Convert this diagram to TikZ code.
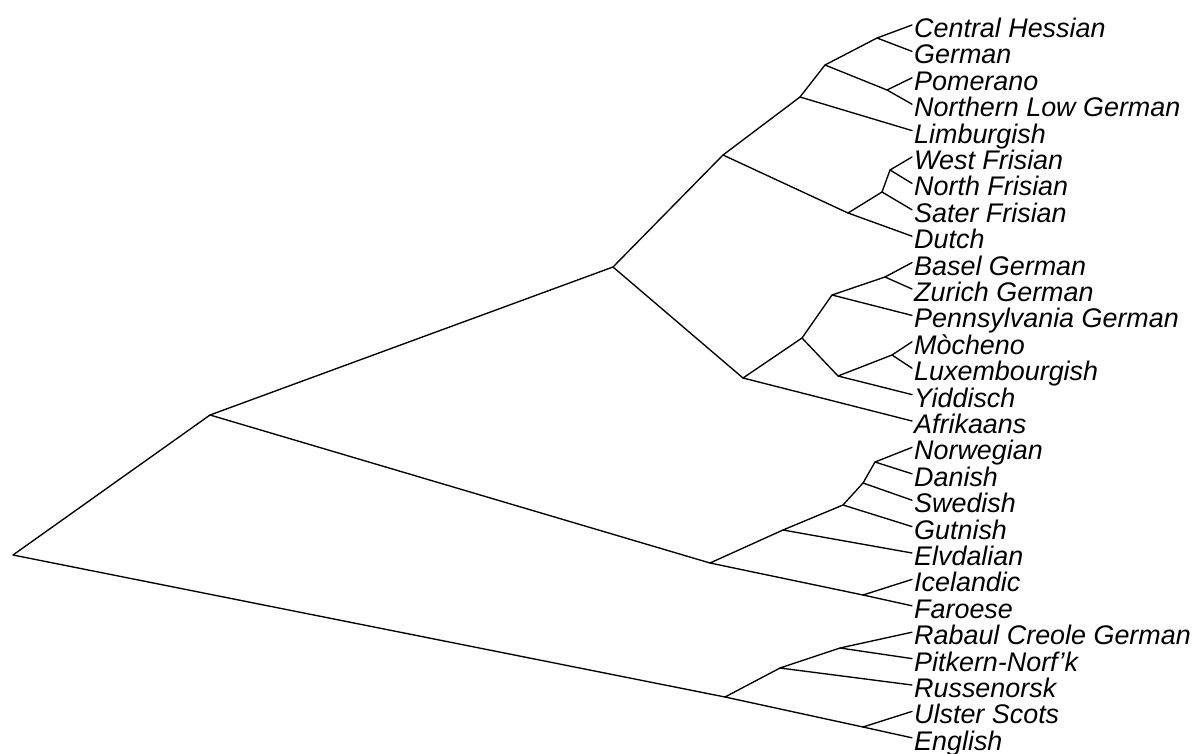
\documentclass[tikz,border=0pt]{standalone}
\usepackage{fontspec}
\setmainfont{Liberation Sans}
\begin{document}
\begin{tikzpicture}[x=1pt,y=-1pt,
  edge/.style={line width=1.35pt,line cap=round,line join=round},
  leaf/.style={anchor=base west,inner sep=0pt,font=\fontsize{26.9}{26.9}\selectfont\itshape}]
\useasboundingbox (0,0) rectangle (1198,754);
% leaf tips
\foreach \i/\t in {0/Central Hessian,1/German,2/Pomerano,3/Northern Low German,4/Limburgish,
  5/West Frisian,6/North Frisian,7/Sater Frisian,8/Dutch,9/Basel German,10/Zurich German,
  11/Pennsylvania German,12/Mòcheno,13/Luxembourgish,14/Yiddisch,15/Afrikaans,16/Norwegian,
  17/Danish,18/Swedish,19/Gutnish,20/Elvdalian,21/Icelandic,22/Faroese,
  23/Rabaul Creole German,24/Pitkern-Norf’k,25/Russenorsk,26/Ulster Scots,27/English}{
  \coordinate (l\i) at (912,{25+26.4*\i});
  \node[leaf] (t\i) at (914,{37.5+26.4*\i}) {\t};
}
% internal nodes
\coordinate (root) at (13,555);
\coordinate (H) at (210,415);
\coordinate (EN) at (725,697);
\coordinate (E) at (613,267);
\coordinate (NG) at (710,563);
\coordinate (D) at (723,155);
\coordinate (F) at (743,378);
\coordinate (C) at (800,97);
\coordinate (FD) at (848,213);
\coordinate (B) at (825,65);
\coordinate (A) at (877,38);
\coordinate (PN) at (887,90);
\coordinate (WNS) at (882,192);
\coordinate (WN) at (890,170);
\coordinate (G) at (802,338);
\coordinate (BZP) at (832,295);
\coordinate (MLY) at (838,376);
\coordinate (BZ) at (885,277);
\coordinate (ML) at (892,355);
\coordinate (N2) at (783,530);
\coordinate (IF) at (863,595);
\coordinate (N3) at (843,505);
\coordinate (N4) at (863,483);
\coordinate (N5) at (875,462);
\coordinate (RPR) at (780,668);
\coordinate (UE) at (863,727);
\coordinate (RP) at (840,648);
% edges
\draw[edge] (H) -- (root) -- (EN);
\draw[edge] (E) -- (H) -- (NG);
\draw[edge] (D) -- (E) -- (F);
\draw[edge] (C) -- (D) -- (FD);
\draw[edge] (B) -- (C) -- (l4);
\draw[edge] (A) -- (B) -- (PN);
\draw[edge] (l0) -- (A) -- (l1);
\draw[edge] (l2) -- (PN) -- (l3);
\draw[edge] (WNS) -- (FD) -- (l8);
\draw[edge] (WN) -- (WNS) -- (l7);
\draw[edge] (l5) -- (WN) -- (l6);
\draw[edge] (G) -- (F) -- (l15);
\draw[edge] (BZP) -- (G) -- (MLY);
\draw[edge] (BZ) -- (BZP) -- (l11);
\draw[edge] (l9) -- (BZ) -- (l10);
\draw[edge] (ML) -- (MLY) -- (l14);
\draw[edge] (l12) -- (ML) -- (l13);
\draw[edge] (N2) -- (NG) -- (IF);
\draw[edge] (N3) -- (N2) -- (l20);
\draw[edge] (N4) -- (N3) -- (l19);
\draw[edge] (N5) -- (N4) -- (l18);
\draw[edge] (l16) -- (N5) -- (l17);
\draw[edge] (l21) -- (IF) -- (l22);
\draw[edge] (RPR) -- (EN) -- (UE);
\draw[edge] (RP) -- (RPR) -- (l25);
\draw[edge] (l23) -- (RP) -- (l24);
\draw[edge] (l26) -- (UE) -- (l27);
\end{tikzpicture}
\end{document}
